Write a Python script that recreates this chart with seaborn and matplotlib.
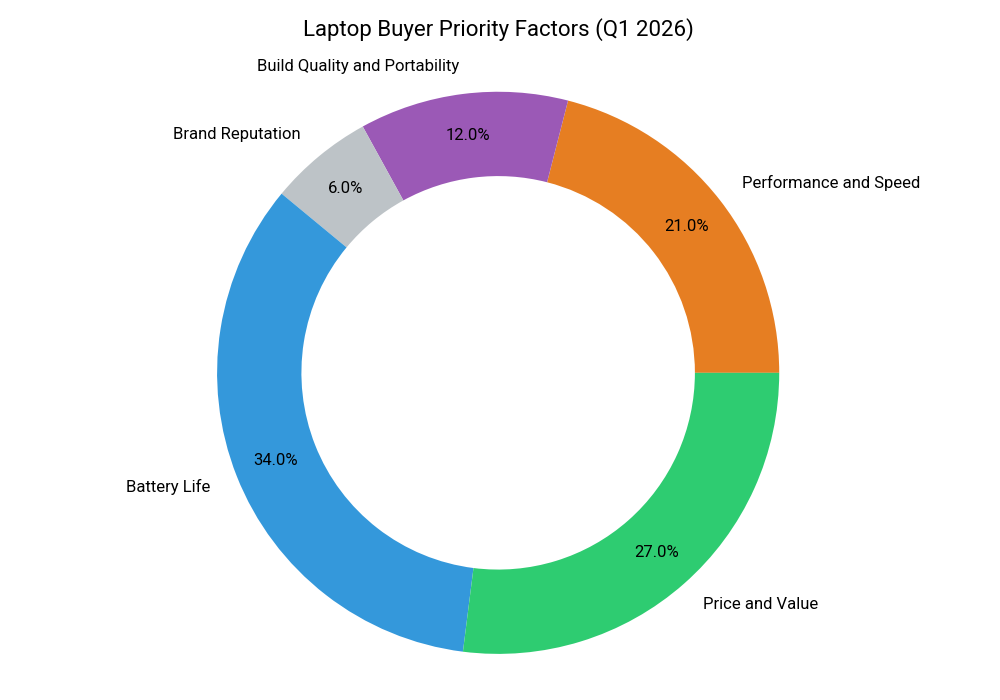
import matplotlib
matplotlib.use("Agg")
import matplotlib.pyplot as plt
import seaborn as sns

# Data (counter-clockwise from 3 o'clock)
factors = ["Performance and Speed", "Build Quality and Portability",
           "Brand Reputation", "Battery Life", "Price and Value"]
shares = [21, 12, 6, 34, 27]
colors = ["#e67e22", "#9b59b6", "#bdc3c7", "#3498db", "#2ecc71"]

sns.set_theme(style="white")
plt.rcParams["font.family"] = ["Roboto", "DejaVu Sans"]

fig, ax = plt.subplots(figsize=(10, 7), dpi=100)
wedges, texts, autotexts = ax.pie(
    shares,
    labels=factors,
    colors=colors,
    autopct="%1.1f%%",
    startangle=0,
    pctdistance=0.85,
    labeldistance=1.1,
    wedgeprops=dict(width=0.3, edgecolor="none"),
    textprops=dict(fontsize=12, color="black"),
)
ax.axis("equal")
ax.set_title("Laptop Buyer Priority Factors (Q1 2026)", fontsize=16, color="black", pad=20)

plt.tight_layout()
plt.savefig("out.png")
plt.close()
